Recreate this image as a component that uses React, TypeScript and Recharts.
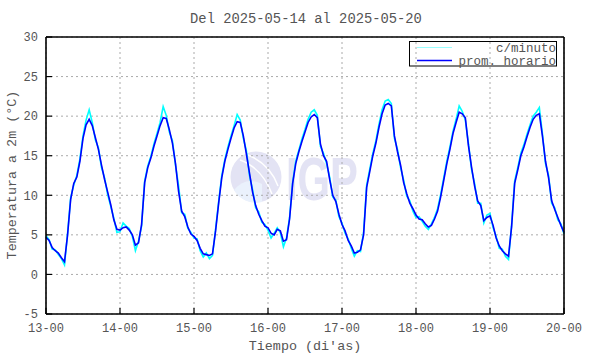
import React from 'react';
import { LineChart, Line, XAxis, YAxis, CartesianGrid } from 'recharts';

// tick labels
const dayTicks = [0, 24, 48, 72, 96, 120, 144, 168];
const dayLabels = ['13-00', '14-00', '15-00', '16-00', '17-00', '18-00', '19-00', '20-00'];
const tempTicks = [-5, 0, 5, 10, 15, 20, 25, 30];

// hourly means, one per hour from 13-00 (last value is 20-00)
const hourlyTemps = [
  4.7, 4.3, 3.4, 3.0, 2.7, 2.1, 1.6, 5.0, 9.5, 11.5, 12.3, 14.3, 17.2, 18.9, 19.6, 18.8, 17.3, 15.8, 13.8, 12.0, 10.4, 8.8, 6.9, 5.7,
  5.6, 5.9, 6.0, 5.6, 5.0, 3.7, 4.0, 6.3, 11.6, 13.5, 14.7, 16.2, 17.5, 18.8, 19.8, 19.7, 18.3, 16.6, 14.0, 10.5, 8.0, 7.3, 6.0, 5.1,
  4.8, 4.3, 3.3, 2.6, 2.5, 2.4, 2.6, 5.5, 9.0, 12.2, 14.3, 15.8, 17.2, 18.5, 19.3, 19.2, 17.5, 15.2, 12.8, 10.4, 8.7, 7.6, 6.8, 6.1,
  5.9, 5.2, 5.0, 5.7, 5.5, 4.2, 4.4, 7.0, 11.5, 14.0, 15.5, 16.8, 18.0, 19.2, 19.9, 20.2, 19.8, 16.5, 15.0, 14.3, 12.0, 10.0, 9.2, 7.6,
  6.3, 5.5, 4.3, 3.6, 2.7, 2.8, 3.1, 5.0, 11.0, 13.0, 15.0, 16.6, 18.6, 20.3, 21.4, 21.6, 21.3, 17.5, 15.5, 13.8, 11.6, 10.2, 9.0, 8.3,
  7.5, 7.0, 6.9, 6.4, 6.0, 6.2, 7.0, 8.0, 9.8, 11.9, 14.0, 15.8, 17.8, 19.2, 20.5, 20.3, 19.8, 16.3, 13.6, 11.2, 9.3, 8.7, 6.8, 7.2,
  7.4, 6.2, 4.6, 3.6, 3.0, 2.6, 2.3, 6.0, 11.5, 13.2, 15.0, 16.1, 17.4, 18.6, 19.6, 20.1, 20.3, 17.5, 14.3, 12.2, 9.3, 8.2, 7.2, 6.2,
  5.3,
];

// per-minute readings, sampled at the same hours (spikes read at peaks and lows)
const minuteTemps = [
  4.9, 4.4, 3.2, 3.1, 2.5, 2.0, 1.2, 5.2, 9.7, 11.3, 12.5, 14.6, 17.5, 19.5, 20.8, 19.2, 17.0, 16.0, 13.5, 12.2, 10.1, 8.6, 7.1, 5.3,
  5.4, 6.5, 6.1, 5.8, 4.8, 3.0, 4.2, 6.1, 11.8, 13.7, 14.9, 16.5, 17.8, 19.2, 21.2, 20.1, 18.0, 16.9, 13.8, 11.2, 7.8, 7.6, 5.8, 5.3,
  4.6, 4.5, 3.0, 2.2, 2.7, 2.0, 2.4, 5.7, 9.2, 12.5, 14.5, 16.1, 17.5, 18.8, 20.2, 19.5, 17.2, 15.6, 12.5, 10.7, 8.4, 7.9, 6.6, 6.3,
  5.6, 4.6, 5.2, 5.9, 5.3, 3.5, 4.6, 7.2, 11.7, 14.3, 15.7, 17.1, 18.3, 19.6, 20.5, 20.8, 20.1, 16.2, 15.3, 14.0, 12.3, 9.8, 9.4, 7.3,
  6.5, 5.2, 4.5, 3.3, 2.3, 3.0, 2.9, 5.3, 11.3, 13.3, 15.3, 16.9, 19.0, 20.8, 21.9, 22.1, 21.6, 17.2, 15.8, 13.5, 11.9, 9.9, 9.3, 8.0,
  7.2, 7.3, 6.7, 6.1, 5.7, 6.4, 7.2, 8.3, 10.1, 12.2, 14.3, 16.1, 18.1, 19.6, 21.3, 20.6, 19.5, 16.6, 13.3, 11.5, 9.0, 9.0, 6.5, 7.5,
  7.7, 5.9, 4.8, 3.3, 3.2, 2.3, 1.9, 6.2, 11.8, 13.5, 15.3, 16.4, 17.7, 18.9, 20.0, 20.5, 21.1, 17.8, 14.0, 12.5, 9.0, 8.4, 6.9, 6.4,
  5.1,
];

const data = hourlyTemps.map((v, i) => ({ t: i, horario: v, minuto: minuteTemps[i] }));

const FONT = '"Liberation Mono", "DejaVu Sans Mono", monospace';
const TXT = '#555';

const Backdrop = () => (
  <svg width={590} height={354} style={{ position: 'absolute', left: 0, top: 0 }}>
    {/* IGP watermark */}
    <g opacity={0.9}>
      <circle cx={256} cy={177} r={25.5} fill="#e1e1f3" />
      <path d="M 234 190 A 25.5 25.5 0 0 0 262 202 L 262 184 Q 246 176 234 190 Z" fill="#e8f0fc" />
      <path d="M 240 160 Q 262 168 272 194" stroke="#fff" strokeWidth={1.5} fill="none" />
      <path d="M 248 155 Q 270 164 278 186" stroke="#fff" strokeWidth={1.5} fill="none" />
      <text x={286} y={200} fontFamily="Liberation Sans, Arial, sans-serif" fontWeight="bold" fontSize={62}
        textLength={72} lengthAdjust="spacingAndGlyphs" fill="#e1e1f3">IGP</text>
    </g>
    <text x={306} y={23} textAnchor="middle" fontFamily={FONT} fontSize={13.8} fill={TXT}>
      Del 2025-05-14 al 2025-05-20
    </text>
    <text x={305} y={350} textAnchor="middle" fontFamily={FONT} fontSize={13.4} fill={TXT}>
      Tiempo (di'as)
    </text>
    <text x={16} y={175} textAnchor="middle" transform="rotate(-90 16 175)" fontFamily={FONT} fontSize={13.4} fill={TXT}>
      Temperatura a 2m (°C)
    </text>
    {/* legend */}
    <rect x={409.5} y={41.5} width={147} height={24.5} fill="#fff" stroke="#000" strokeWidth={1} />
    <line x1={417} x2={452} y1={47.5} y2={47.5} stroke="#9ff" strokeWidth={1} />
    <line x1={417} x2={452} y1={60.5} y2={60.5} stroke="#0000ff" strokeWidth={1.6} />
    <text x={556} y={52} textAnchor="end" fontFamily={FONT} fontSize={12.5} fill={TXT}>c/minuto</text>
    <text x={556} y={64.5} textAnchor="end" fontFamily={FONT} fontSize={12.5} fill={TXT}>prom. horario</text>
  </svg>
);

export default function App() {
  const tickStyle = { fontFamily: FONT, fontSize: 12, fill: TXT };
  const axisLine = { stroke: '#000', strokeWidth: 1.6 };
  const tickLine = { stroke: '#000', strokeWidth: 1.2 };
  return (
    <div style={{ position: 'absolute', left: 0, top: 0, width: 590, height: 354, background: '#fff' }}>
      <Backdrop />
      <div style={{ position: 'absolute', left: 0, top: 0 }}>
        <LineChart width={590} height={354} data={data} margin={{ top: 0, right: 0, bottom: 0, left: 0 }}>
          <CartesianGrid stroke="#aaa" strokeDasharray="2 3" />
          <XAxis dataKey="t" type="number" domain={[0, 168]} ticks={dayTicks} interval={0}
            tickFormatter={(v: number) => dayLabels[v / 24]} height={40}
            tick={tickStyle} axisLine={axisLine} tickLine={tickLine} tickSize={-6} tickMargin={15} />
          <XAxis xAxisId="top" orientation="top" dataKey="t" type="number" domain={[0, 168]} ticks={dayTicks}
            height={37} tick={false} axisLine={axisLine} tickLine={tickLine} tickSize={-6} />
          <YAxis type="number" domain={[-5, 30]} ticks={tempTicks} interval={0} width={46}
            tick={tickStyle} axisLine={axisLine} tickLine={tickLine} tickSize={-6} tickMargin={14} />
          <YAxis yAxisId="right" orientation="right" type="number" domain={[-5, 30]} ticks={tempTicks} width={26}
            tick={false} axisLine={axisLine} tickLine={tickLine} tickSize={-6} />
          <Line type="linear" dataKey="minuto" stroke="#00ffff" strokeWidth={1.6} dot={false} isAnimationActive={false} />
          <Line type="linear" dataKey="horario" stroke="#0000ff" strokeWidth={1.6} dot={false} isAnimationActive={false} />
        </LineChart>
      </div>
    </div>
  );
}
